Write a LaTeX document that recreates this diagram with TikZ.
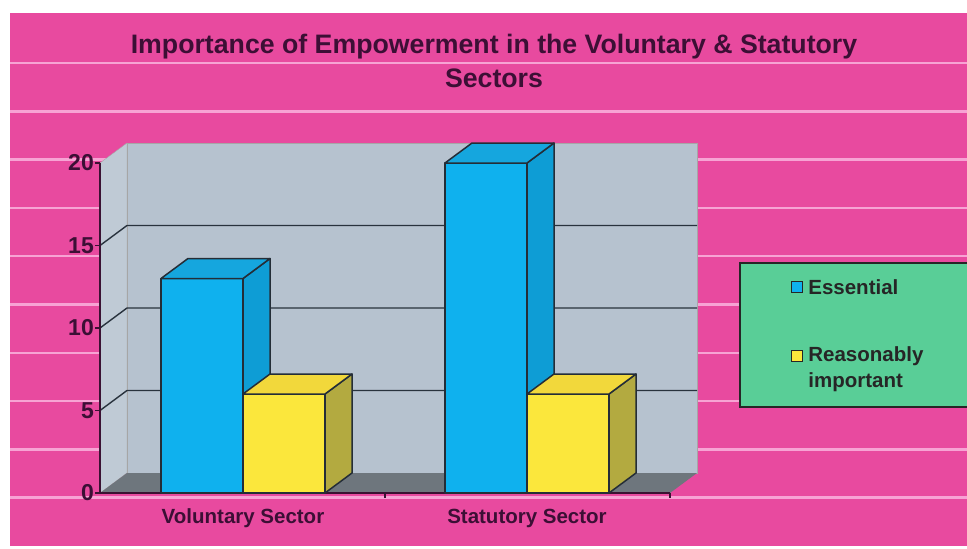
\documentclass[tikz,border=0pt]{standalone}
\usepackage{fontspec}
\setmainfont{Liberation Sans}
\usetikzlibrary{positioning}

\definecolor{pinkbg}{HTML}{E84A9F}
\definecolor{pinkline}{HTML}{F7A3D4}
\definecolor{wallgray}{HTML}{B6C2CF}
\definecolor{sidegray}{HTML}{BFCAD5}
\definecolor{floorgray}{HTML}{6E767D}
\definecolor{gridcol}{HTML}{28323D}
\definecolor{axiscol}{HTML}{3A1132}
\definecolor{essfront}{HTML}{0FB1EE}
\definecolor{essside}{HTML}{0E9DD5}
\definecolor{esstop}{HTML}{15A6DE}
\definecolor{reafront}{HTML}{FBE73C}
\definecolor{reaside}{HTML}{B3AA40}
\definecolor{reatop}{HTML}{F2D83B}
\definecolor{legbg}{HTML}{59CE97}
\definecolor{txtcol}{HTML}{3C0F35}

% one 3d column: left x, right x, top y, colour prefix
\newcommand{\colbox}[4]{%
	\filldraw[baredge, fill=#4front] (#1,#3) rectangle (#2,493);
	\filldraw[baredge, fill=#4side] (#2,493) -- (#2,#3) -- (#2+27,#3-20) -- (#2+27,473) -- cycle;
	\filldraw[baredge, fill=#4top] (#1,#3) -- (#1+27,#3-20) -- (#2+27,#3-20) -- (#2,#3) -- cycle;
}

\tikzset{
	stripe/.style={pinkline, line width=2.5pt},
	gridln/.style={gridcol, line width=1.4pt},
	baredge/.style={draw=gridcol!90!black, line width=1.5pt, line join=round},
	ticklabel/.style={anchor=east, inner sep=0pt, text=txtcol, font=\bfseries\fontsize{23}{27}\selectfont},
	catlabel/.style={inner sep=0pt, text=txtcol, font=\bfseries\fontsize{20.5}{24}\selectfont},
	legtext/.style={inner sep=0pt, text=black!85, font=\bfseries\fontsize{20.5}{26}\selectfont},
	keybox/.style={draw=black!85, line width=1.3pt, minimum size=11pt, inner sep=0pt}
}

\begin{document}
\begin{tikzpicture}[x=1pt, y=-1pt]
	\useasboundingbox (0,0) rectangle (967,549);
	\fill[white] (0,0) rectangle (967,549);
	\fill[pinkbg] (10,13) rectangle (967,546);
	\foreach \k in {0,...,9}
		\draw[stripe] (10,63+48.3*\k) -- (967,63+48.3*\k);
	
	\node[text=txtcol, align=center, font=\bfseries\fontsize{26.7}{34}\selectfont] (title) at (494,61)
		{Importance of Empowerment in the Voluntary \& Statutory\\Sectors};
	
	% walls and floor
	\filldraw[fill=sidegray, draw=gray!70] (100,163) -- (127,143) -- (127,473) -- (100,493) -- cycle;
	\filldraw[fill=wallgray, draw=gray!70] (127,143) rectangle (697,473);
	\fill[floorgray] (100,493) -- (127,473) -- (697,473) -- (670,493) -- cycle;
	
	\draw[gridln] (100,410.5) -- (127,390.5) -- (697,390.5);
	\draw[gridln] (100,328) -- (127,308) -- (697,308);
	\draw[gridln] (100,245.5) -- (127,225.5) -- (697,225.5);
	
	% axes
	\draw[axiscol, line width=1.8pt] (100,163) -- (100,493) -- (670,493);
	\draw[axiscol, line width=1.4pt] (95,163) -- (100,163) (95,245.5) -- (100,245.5)
		(95,328) -- (100,328) (95,410.5) -- (100,410.5) (95,493) -- (100,493)
		(385,493) -- (385,498) (670,493) -- (670,498);
	
	\node[ticklabel] (t20) at (94,163) {20};
	\node[ticklabel] (t15) at (94,245.5) {15};
	\node[ticklabel] (t10) at (94,328) {10};
	\node[ticklabel] (t5) at (94,410.5) {5};
	\node[ticklabel] (t0) at (94,493) {0};
	
	% columns
	\colbox{161}{243}{278.5}{ess}
	\colbox{243}{325}{394}{rea}
	\colbox{445}{527}{163}{ess}
	\colbox{527}{609}{394}{rea}
	
	\node[catlabel] (vol) at (243,518) {Voluntary Sector};
	\node[catlabel] (stat) at (527,518) {Statutory Sector};
	
	% legend
	\fill[legbg] (740,263) rectangle (967,407);
	\draw[black!85, line width=1.5pt] (967,263) -- (740,263) -- (740,407) -- (967,407);
	\node[keybox, fill=essfront] (esskey) at (797,287) {};
	\node[legtext, right=5pt of esskey] (esstext) {Essential};
	\node[keybox, fill=reafront] (reakey) at (797,356) {};
	\node[legtext, align=left, anchor=north west] (reatext) at ([xshift=5pt, yshift=3pt]reakey.north east)
		{Reasonably\\important};
\end{tikzpicture}
\end{document}
